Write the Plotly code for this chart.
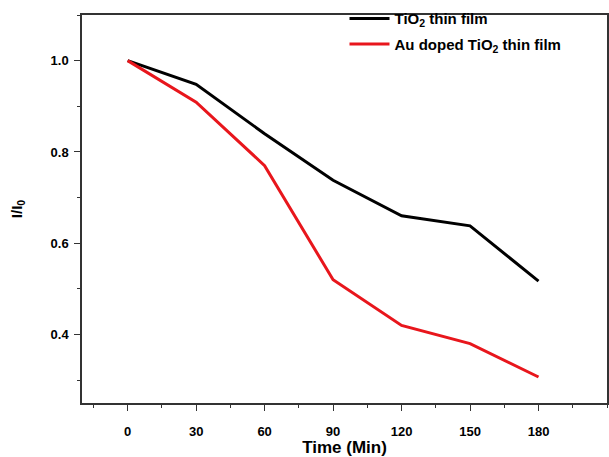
import plotly.graph_objects as go

time_min = [0, 30, 60, 90, 120, 150, 180]
tio2 = [1.0, 0.948, 0.84, 0.738, 0.66, 0.638, 0.517]
au_tio2 = [1.0, 0.909, 0.77, 0.52, 0.42, 0.38, 0.307]
x_ticks = [0, 30, 60, 90, 120, 150, 180]
y_ticks = [0.4, 0.6, 0.8, 1.0]
y_tick_labels = ["0.4", "0.6", "0.8", "1.0"]

tick_font = dict(family="Liberation Sans Narrow, Arial Narrow, Liberation Sans", size=13, color="black", weight="bold")

fig = go.Figure()
fig.add_trace(go.Scatter(x=time_min, y=tio2, mode="lines", name="TiO<sub>2</sub> thin film",
                         legendgroup="a", line=dict(color="black", width=3)))
fig.add_trace(go.Scatter(x=time_min, y=au_tio2, mode="lines", name="Au doped TiO<sub>2</sub> thin film",
                         legendgroup="b", line=dict(color="#e8161c", width=3)))

fig.update_layout(
    width=609, height=457,
    margin=dict(l=82, r=2, t=11, b=54),
    paper_bgcolor="white", plot_bgcolor="white",
    showlegend=True,
    legend=dict(x=0.5, y=1.033, xanchor="left", yanchor="top",
                font=dict(family="Liberation Sans, Arial", size=15, color="black", weight="bold"),
                bgcolor="rgba(0,0,0,0)", tracegroupgap=3, itemwidth=40),
    xaxis=dict(range=[-20, 210], tickvals=x_ticks, ticks="outside", ticklen=6, tickwidth=1.2,
               tickcolor="#333", showline=True, linecolor="#333", linewidth=1.5, mirror=True,
               showgrid=False, zeroline=False, tickfont=tick_font, automargin=False,
               ticklabelstandoff=10,
               minor=dict(dtick=15, tick0=0, ticks="outside", ticklen=3, tickcolor="#333", showgrid=False),
               title=dict(text="Time (Min)", standoff=6,
                          font=dict(family="Liberation Sans Narrow, Arial Narrow, Liberation Sans", size=17, color="black", weight="bold"))),
    yaxis=dict(range=[0.25, 1.1], tickvals=y_ticks, ticktext=y_tick_labels, ticks="outside", ticklen=6, tickwidth=1.2,
               tickcolor="#333", showline=True, linecolor="#333", linewidth=1.5, mirror=True,
               showgrid=False, zeroline=False, tickfont=tick_font, automargin=False,
               ticklabelstandoff=3,
               minor=dict(dtick=0.1, tick0=0.3, ticks="outside", ticklen=3, tickcolor="#333", showgrid=False),
               title=dict(text="I/I<sub>0</sub>", standoff=24,
                          font=dict(family="Liberation Sans, Arial", size=15, color="black", weight="bold"))),
)

fig.write_html("out.html", config={"displayModeBar": False},
               post_script="document.body.style.margin='0';document.body.style.padding='0';")
